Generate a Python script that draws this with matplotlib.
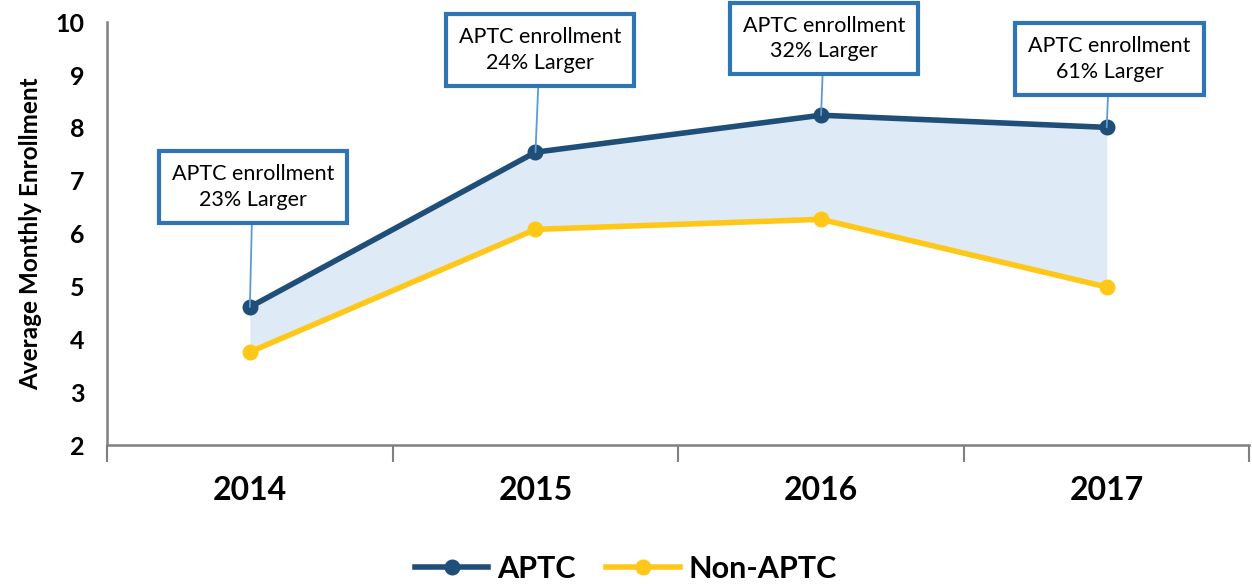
import matplotlib.pyplot as plt
import numpy as np

plt.rcParams['font.family'] = ['Lato', 'DejaVu Sans']

# Data
years = ['2014', '2015', '2016', '2017']
aptc = [4.61, 7.54, 8.24, 8.01]
non_aptc = [3.76, 6.08, 6.27, 4.99]
notes = ['APTC enrollment\n23% Larger', 'APTC enrollment\n24% Larger',
         'APTC enrollment\n32% Larger', 'APTC enrollment\n61% Larger']
note_pos = [(0.01, 6.88), (1.015, 9.47), (2.01, 9.69), (3.01, 9.30)]

navy = '#1F4E79'
gold = '#FFC819'
box_blue = '#2E75B6'
x = np.arange(len(years))

fig = plt.figure(figsize=(12.52, 5.84), dpi=100)
ax = fig.add_axes([0.0855, 0.238, 0.9125, 0.724])

ax.fill_between(x, non_aptc, aptc, color='#DEEAF6', linewidth=0, zorder=1)
ax.plot(x, aptc, color=navy, lw=4, marker='o', ms=10.5, label='APTC', zorder=3)
ax.plot(x, non_aptc, color=gold, lw=4, marker='o', ms=10.5, label='Non-APTC', zorder=3)

for xi, yi, txt, (tx, ty) in zip(x, aptc, notes, note_pos):
    ax.annotate(txt, xy=(xi, yi), xytext=(tx, ty), ha='center', va='center',
                fontsize=15.5, linespacing=1.35, annotation_clip=False,
                bbox=dict(boxstyle='square,pad=0.6', fc='white', ec=box_blue, lw=3),
                arrowprops=dict(arrowstyle='-', color='#5B9BD5', lw=1.3,
                                shrinkA=0, shrinkB=0), zorder=4)

ax.set_xlim(-0.5, 3.5)
ax.set_ylim(2, 10)
ax.set_yticks(range(2, 11))
ax.set_yticklabels([str(v) for v in range(2, 11)], fontsize=18, fontweight='bold')
ax.tick_params(axis='y', length=0, pad=16)
ax.set_xticks(x)
ax.set_xticklabels(years, fontsize=23, fontweight='bold')
ax.tick_params(axis='x', length=0, pad=22)
ax.set_xticks(np.arange(-0.5, 4.0, 1.0), minor=True)
ax.tick_params(axis='x', which='minor', length=12, width=1.5, color='#808080', direction='out')
ax.set_ylabel('Average Monthly Enrollment', fontsize=17.5, fontweight='bold', labelpad=10)

for s in ['top', 'right']:
    ax.spines[s].set_visible(False)
for s in ['left', 'bottom']:
    ax.spines[s].set_color('#808080')
    ax.spines[s].set_linewidth(1.8)

leg = fig.legend(loc='lower center', bbox_to_anchor=(0.5, -0.045), ncol=2, frameon=False,
                 prop={'size': 22, 'weight': 'bold'}, handlelength=2.4, columnspacing=1.0,
                 handletextpad=0.3)

fig.savefig('out.png', dpi=100)
